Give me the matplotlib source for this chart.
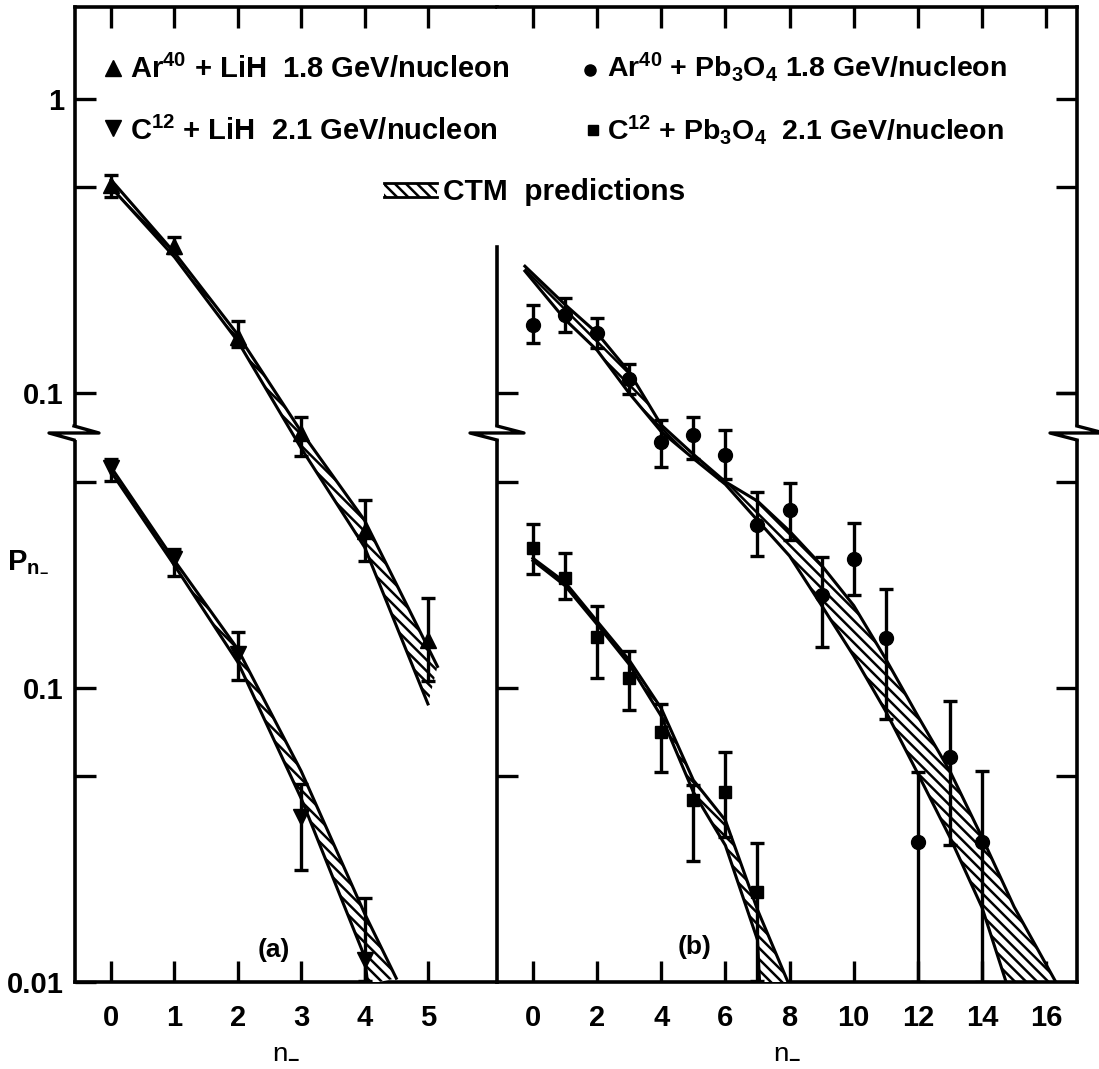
import numpy as np
import matplotlib
matplotlib.use("Agg")
import matplotlib.pyplot as plt
from matplotlib.lines import Line2D
from matplotlib.patches import Rectangle
from matplotlib.ticker import NullLocator

plt.rcParams['font.family'] = ['Liberation Sans', 'DejaVu Sans']
plt.rcParams['font.weight'] = 'bold'
plt.rcParams['mathtext.fontset'] = 'custom'
plt.rcParams['mathtext.rm'] = 'Liberation Sans:bold'
plt.rcParams['mathtext.bf'] = 'Liberation Sans:bold'
plt.rcParams['mathtext.default'] = 'rm'
plt.rcParams['hatch.linewidth'] = 1.8

############################## data ##############################
# (a) Ar40 + LiH, upper scale
n_ar_lih = [0, 1, 2, 3, 4, 5]
ar_lih = [0.51, 0.315, 0.155, 0.073, 0.034, 0.0145]
ar_lih_lo = [0.465, 0.30, 0.144, 0.061, 0.027, 0.0105]
ar_lih_hi = [0.55, 0.34, 0.176, 0.083, 0.0434, 0.0201]
# (a) C12 + LiH, lower scale
n_c_lih = [0, 1, 2, 3, 4]
c_lih = [0.558, 0.273, 0.130, 0.0363, 0.0119]
c_lih_lo = [0.502, 0.240, 0.106, 0.024, 0.0101]
c_lih_hi = [0.596, 0.295, 0.154, 0.047, 0.0193]
# (b) Ar40 + Pb3O4, upper scale
n_ar_pb = [0, 1, 2, 3, 4, 5, 6, 7, 8, 9, 10, 11, 12, 13, 14]
ar_pb = [0.170, 0.184, 0.160, 0.112, 0.0683, 0.072, 0.0615, 0.0356, 0.040,
         0.0206, 0.0274, 0.0147, 0.00298, 0.0058, 0.00298]
ar_pb_lo = [0.148, 0.161, 0.142, 0.0997, 0.056, 0.060, 0.051, 0.028, 0.0316,
            0.0137, 0.0206, 0.0078, 0.001, 0.00292, 0.001]
ar_pb_hi = [0.199, 0.21, 0.18, 0.126, 0.081, 0.083, 0.075, 0.046, 0.0497,
            0.0277, 0.0362, 0.0217, 0.00516, 0.0090, 0.0052]
# (b) C12 + Pb3O4, lower scale
n_c_pb = [0, 1, 2, 3, 4, 5, 6, 7]
c_pb = [0.299, 0.236, 0.148, 0.108, 0.0706, 0.0414, 0.0442, 0.0202]
c_pb_lo = [0.243, 0.20, 0.108, 0.0836, 0.0516, 0.0258, 0.0311, 0.0101]
c_pb_hi = [0.359, 0.287, 0.19, 0.133, 0.088, 0.0465, 0.0603, 0.0296]

# CTM prediction bands (upper / lower edges)
ctm_ar_lih_xu = [0, 1, 2, 3, 4, 5, 5.15]
ctm_ar_lih_yu = [0.53, 0.30, 0.158, 0.074, 0.037, 0.0137, 0.0118]
ctm_ar_lih_xl = [0, 1, 2, 3, 4, 5]
ctm_ar_lih_yl = [0.50, 0.29, 0.150, 0.065, 0.030, 0.0088]

ctm_c_lih_xu = [0, 1, 2, 3, 4, 4.5]
ctm_c_lih_yu = [0.56, 0.27, 0.135, 0.052, 0.0171, 0.0103]
ctm_c_lih_xl = [0, 1, 2, 3, 4, 4.05]
ctm_c_lih_yl = [0.54, 0.26, 0.122, 0.042, 0.0122, 0.0098]

ctm_ar_pb_xu = [-0.25, 1, 2, 3, 4, 5, 6, 7, 8, 9, 10, 11, 12, 13, 14, 15, 16.3]
ctm_ar_pb_yu = [0.27, 0.20, 0.16, 0.118, 0.078, 0.062, 0.050, 0.043, 0.034,
                0.026, 0.019, 0.0125, 0.0080, 0.0052, 0.0031, 0.0018, 0.001]
ctm_ar_pb_xl = [-0.25, 1, 2, 3, 4, 5, 6, 7, 8, 9, 10, 11, 12, 13, 14, 14.75]
ctm_ar_pb_yl = [0.26, 0.178, 0.14, 0.10, 0.074, 0.060, 0.049, 0.037, 0.028,
                0.019, 0.0128, 0.0083, 0.0051, 0.0031, 0.00179, 0.001]

ctm_c_pb_xu = [0, 1, 2, 3, 4, 5, 6, 7, 7.95]
ctm_c_pb_yu = [0.275, 0.228, 0.168, 0.124, 0.085, 0.0485, 0.0354, 0.0176, 0.01]
ctm_c_pb_xl = [0, 1, 2, 3, 4, 5, 6, 7, 7.07]
ctm_c_pb_yl = [0.27, 0.222, 0.164, 0.12, 0.080, 0.0442, 0.0291, 0.0139, 0.0098]
##################################################################

W, H = 1099, 1069
def fx(px):
    return px / W
def fy(py):
    return 1 - py / H

fig = plt.figure(figsize=(W / 100, H / 100), dpi=100)
LW = 2.6
TICK = dict(direction='in', length=15, width=2.4, labelsize=21)

top_px, bot_px = 7, 982
ax_a = fig.add_axes([fx(75), fy(bot_px), fx(497) - fx(75), fy(top_px) - fy(bot_px)])
ax_b = fig.add_axes([fx(497), fy(bot_px), fx(1077) - fx(497), fy(top_px) - fy(bot_px)])
ax_a2 = ax_a.twinx()
ax_b2 = ax_b.twinx()

for ax in (ax_a, ax_b):
    ax.set_yscale('log')
    ax.set_ylim(0.001, 2.05)
for ax in (ax_a2, ax_b2):
    ax.set_yscale('log')
    ax.set_ylim(0.01, 20.5)
    for s in ax.spines.values():
        s.set_visible(False)
for ax in (ax_a, ax_b, ax_a2, ax_b2):
    ax.yaxis.set_minor_locator(NullLocator())
    ax.xaxis.set_minor_locator(NullLocator())
    for s in ax.spines.values():
        s.set_linewidth(LW)

ax_a.set_xlim(-0.57, 6.09)
ax_b.set_xlim(-1.12, 16.96)
ax_a.set_xticks(range(0, 6))
ax_b.set_xticks(range(0, 17, 2))
for ax in (ax_a, ax_b):
    ax.tick_params(axis='x', top=True, bottom=True, pad=16, **TICK)

# y scales: left axis carries labels, inner/outer frames only ticks
ax_a.spines['right'].set_visible(False)
ax_a.set_yticks([1, 0.5, 0.1], ['1', '', '0.1'])
ax_a.tick_params(axis='y', left=True, right=False, pad=8, **TICK)
ax_a2.yaxis.set_ticks_position('left')
ax_a2.set_yticks([0.5, 0.1, 0.05, 0.01], ['', '0.1', '', '0.01'])
ax_a2.tick_params(axis='y', left=True, right=False, labelleft=True,
                  labelright=False, pad=8, **TICK)

ax_b.spines['left'].set_bounds(0.001, 0.314)
ax_b.set_yticks([1, 0.5, 0.1], ['', '', ''])
ax_b.tick_params(axis='y', left=False, right=True, labelleft=False, **TICK)
ax_b2.set_yticks([1, 0.5, 0.1, 0.05], ['', '', '', ''])
ax_b2.tick_params(axis='y', left=True, right=True, labelleft=False,
                  labelright=False, **TICK)


def band(ax, xu, yu, xl, yl):
    xs = np.concatenate([xu, xl[::-1]])
    ys = np.concatenate([yu, yl[::-1]])
    ax.fill(xs, ys, facecolor='white', edgecolor='black', hatch='\\\\\\',
            linewidth=0, zorder=2)
    ax.plot(xu, yu, color='black', lw=2.2, zorder=3)
    ax.plot(xl, yl, color='black', lw=2.2, zorder=3)


def points(ax, n, y, lo, hi, marker, ms):
    y = np.array(y)
    err = [y - np.array(lo), np.array(hi) - y]
    ax.errorbar(n, y, yerr=err, fmt=marker, ms=ms, color='black',
                ecolor='black', elinewidth=2.4, capsize=5, capthick=2.4, zorder=4)


band(ax_a, ctm_ar_lih_xu, ctm_ar_lih_yu, ctm_ar_lih_xl, ctm_ar_lih_yl)
band(ax_a2, ctm_c_lih_xu, ctm_c_lih_yu, ctm_c_lih_xl, ctm_c_lih_yl)
band(ax_b, ctm_ar_pb_xu, ctm_ar_pb_yu, ctm_ar_pb_xl, ctm_ar_pb_yl)
band(ax_b2, ctm_c_pb_xu, ctm_c_pb_yu, ctm_c_pb_xl, ctm_c_pb_yl)

points(ax_a, n_ar_lih, ar_lih, ar_lih_lo, ar_lih_hi, '^', 12)
points(ax_a2, n_c_lih, c_lih, c_lih_lo, c_lih_hi, 'v', 12)
points(ax_b, n_ar_pb, ar_pb, ar_pb_lo, ar_pb_hi, 'o', 10)
points(ax_b2, n_c_pb, c_pb, c_pb_lo, c_pb_hi, 's', 9)

# axis breaks at the scale change
def axis_break(xc, half):
    yb = 433
    fig.add_artist(Rectangle((fx(xc - 6), fy(yb + 7)), fx(12), fy(yb - 7) - fy(yb + 7),
                             facecolor='white', edgecolor='none', zorder=5))
    fig.add_artist(Line2D([fx(xc), fx(xc + half), fx(xc - half), fx(xc)],
                          [fy(yb - 7), fy(yb), fy(yb), fy(yb + 7)],
                          color='black', lw=2.4, zorder=6))

axis_break(74, 25)
axis_break(497, 27)
axis_break(1077, 27)

# labels
ax_a.set_xlabel(r'n$_{-}$', fontsize=20, labelpad=4)
ax_b.set_xlabel(r'n$_{-}$', fontsize=20, labelpad=4)
fig.text(fx(28), fy(560), r'P$_{n_{-}}$', fontsize=21, ha='center', va='center')
fig.text(fx(274), fy(950), '(a)', fontsize=19, ha='center', va='center')
fig.text(fx(695), fy(947), '(b)', fontsize=19, ha='center', va='center')

# key
fig.add_artist(Line2D([fx(113)], [fy(68)], marker='^', ms=11, color='black'))
fig.text(fx(130), fy(78), r'Ar$^{40}$ + LiH  1.8 GeV/nucleon', fontsize=21, va='baseline')
fig.add_artist(Line2D([fx(113)], [fy(128)], marker='v', ms=11, color='black'))
fig.text(fx(130), fy(140), r'C$^{12}$ + LiH  2.1 GeV/nucleon', fontsize=21, va='baseline')
fig.add_artist(Line2D([fx(590)], [fy(70)], marker='o', ms=8, color='black'))
fig.text(fx(607), fy(77), r'Ar$^{40}$ + Pb$_{3}$O$_{4}$ 1.8 GeV/nucleon', fontsize=20.5, va='baseline')
fig.add_artist(Line2D([fx(593)], [fy(130)], marker='s', ms=7, color='black'))
fig.text(fx(607), fy(140), r'C$^{12}$ + Pb$_{3}$O$_{4}$  2.1 GeV/nucleon', fontsize=20.5, va='baseline')
fig.add_artist(Rectangle((fx(384), fy(197)), fx(437) - fx(384), fy(183) - fy(197),
                         facecolor='white', edgecolor='black', hatch='\\\\\\', lw=0))
fig.add_artist(Line2D([fx(384), fx(437)], [fy(183), fy(183)], color='black', lw=2))
fig.add_artist(Line2D([fx(384), fx(437)], [fy(197), fy(197)], color='black', lw=2))
fig.text(fx(443), fy(200), 'CTM  predictions', fontsize=21.5, va='baseline')

fig.savefig('out.png', dpi=100)
